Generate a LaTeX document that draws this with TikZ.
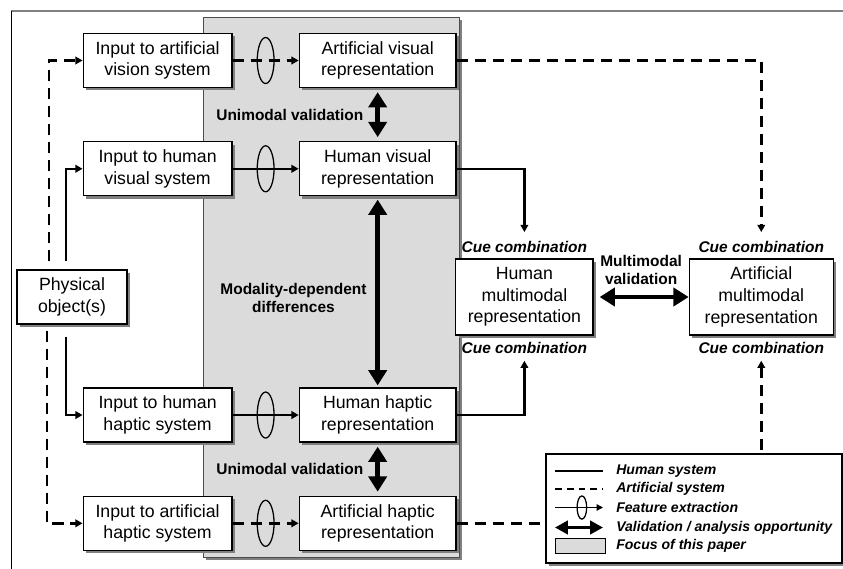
\documentclass[tikz,border=0pt]{standalone}
\usepackage{fontspec}
\setmainfont{Liberation Sans}
\usepackage{tikz}
\usetikzlibrary{shapes.geometric, arrows.meta, positioning, shadows}

\definecolor{focusgray}{gray}{0.86}

\tikzset{
  boxshadow/.style={general shadow={fill=black!50, shadow xshift=0.07cm, shadow yshift=-0.07cm}},
}

\begin{document}
\begin{tikzpicture}[
  box/.style={rectangle, draw, line width=0.9pt, fill=white, minimum width=3.72cm, minimum height=1.35cm, align=center, inner sep=1pt, font=\fontsize{12.6}{15.4}\selectfont, boxshadow},
  rep/.style={box, minimum width=3.92cm},
  multi/.style={box, minimum height=1.9cm},
  fx/.style={ellipse, draw, solid, line width=0.9pt, minimum width=0.42cm, minimum height=1.15cm, inner sep=0pt},
  hline/.style={line width=1.8pt},
  dline/.style={hline, dash pattern=on 0.28cm off 0.17cm},
  arr/.style={-{Triangle[length=1.8mm, width=1.9mm]}},
  bigarr/.style={{Triangle[length=3.8mm, width=4.5mm]}-{Triangle[length=3.8mm, width=4.5mm]}, line width=3.4pt},
  lbl/.style={inner sep=0pt, align=center, font=\fontsize{11}{13}\selectfont\bfseries},
  cue/.style={lbl, font=\fontsize{11}{13}\selectfont\bfseries\itshape},
  key/.style={anchor=west, inner sep=0pt, font=\fontsize{10}{12}\selectfont\bfseries\itshape},
]
\useasboundingbox (0,0) rectangle (21.075,-14.2);

% frame
\draw[black!50, line width=1.4pt] (0.275,-0.275) -- (21.2,-0.275);
\draw[line width=0.5pt] (0.275,-0.275) -- (0.275,-14.3);

% shaded region
\node[draw=black!70, line width=0.6pt, fill=focusgray, boxshadow, minimum width=6.4cm, minimum height=13.5cm] (focus) at (8.275,-7.175) {};

% left column
\node[box] (invis) at (3.94,-1.5125) {Input to artificial\\vision system};
\node[box, below=1.325cm of invis] (inhvis) {Input to human\\visual system};
\node[box, below=4.775cm of inhvis] (inhhap) {Input to human\\haptic system};
\node[box, below=1.325cm of inhhap] (inahap) {Input to artificial\\haptic system};
\node[box, minimum width=2.75cm] (phys) at (1.8,-7.425) {Physical\\object(s)};

% representations
\node[rep, right=1.65cm of invis] (artvis) {Artificial visual\\representation};
\node[rep, right=1.65cm of inhvis] (hvis) {Human visual\\representation};
\node[rep, right=1.65cm of inhhap] (hhap) {Human haptic\\representation};
\node[rep, right=1.65cm of inahap] (ahap) {Artificial haptic\\representation};

% multimodal
\node[multi, minimum width=3.43cm] (hmm) at (13.11,-7.425) {Human\\multimodal\\representation};
\node[multi, minimum width=3.6cm, right=2.375cm of hmm] (amm) {Artificial\\multimodal\\representation};
\node[cue, above=0.14cm of hmm] (cueHV) {Cue combination};
\node[cue, below=0.17cm of hmm] (cueHH) {Cue combination};
\node[cue, above=0.14cm of amm] (cueAV) {Cue combination};
\node[cue, below=0.17cm of amm] (cueAH) {Cue combination};

% from the object
\draw[dline, arr, shorten <=0.2cm] ([xshift=-0.575cm]phys.north) |- (invis.west);
\draw[hline, arr, shorten <=0.2cm] ([xshift=-0.15cm]phys.north) |- (inhvis.west);
\draw[dline, arr, shorten <=0.15cm] ([xshift=-0.625cm]phys.south) |- (inahap.west);
\draw[hline, arr, shorten <=0.3cm] ([xshift=-0.15cm]phys.south) |- (inhhap.west);

% feature extraction
\draw[dline, arr] (invis) -- node[fx] (fx1) {} (artvis);
\draw[hline, arr] (inhvis) -- node[fx] (fx2) {} (hvis);
\draw[hline, arr] (inhhap) -- node[fx] (fx3) {} (hhap);
\draw[dline, arr] (inahap) -- node[fx] (fx4) {} (ahap);

% validation
\draw[bigarr, shorten <=0.1cm, shorten >=0.1cm] (artvis) -- node[lbl, left=0.3cm] (uniV) {Unimodal validation} (hvis);
\draw[bigarr, shorten <=0.08cm, shorten >=0.05cm] (hvis) -- node[lbl, left=0.22cm, yshift=-0.16cm] (moddiff) {Modality-dependent\\differences} (hhap);
\draw[bigarr, shorten <=0.1cm, shorten >=0.1cm] (hhap) -- node[lbl, left=0.3cm] (uniH) {Unimodal validation} (ahap);
\draw[bigarr, shorten <=0.15cm] (hmm) -- node[lbl, above=0.25cm] (multival) {Multimodal\\validation} (amm);

% cue combination
\draw[hline, arr, shorten >=0.22cm] (hvis.east) -| (cueHV.north);
\draw[hline, arr, shorten >=0.16cm] (hhap.east) -| (cueHH.south);
\draw[dline, arr, shorten >=0.22cm] (artvis.east) -| (cueAV.north);
\draw[dline, arr, shorten >=0.16cm] (ahap.east) -| (cueAH.south);

% legend
\node[draw, line width=0.9pt, fill=white, boxshadow, minimum width=7.4cm, minimum height=2.725cm] (legend) at (17.35,-12.7125) {};
\coordinate (k1a) at (13.875,-11.775); \coordinate (k1b) at (15.075,-11.775);
\coordinate (k2a) at (13.875,-12.225); \coordinate (k2b) at (15.075,-12.225);
\coordinate (k3a) at (13.875,-12.6875); \coordinate (k3b) at (15.075,-12.6875);
\coordinate (k4a) at (13.875,-13.1875); \coordinate (k4b) at (15.075,-13.1875);
\draw[line width=1.1pt] (k1a) -- (k1b);
\draw[line width=1.1pt, dash pattern=on 0.17cm off 0.125cm] (k2a) -- (k2b);
\draw[line width=0.9pt, -{Triangle[length=1.6mm, width=1.6mm]}] (k3a) -- node[fx, pos=0.56, minimum width=0.24cm, minimum height=0.58cm] (kfx) {} (k3b);
\draw[{Triangle[length=3.2mm, width=3.3mm]}-{Triangle[length=3.2mm, width=3.3mm]}, line width=2.2pt] (k4a) -- (k4b);
\node[draw, line width=0.6pt, fill=focusgray, minimum width=1.25cm, minimum height=0.375cm] (kbox) at (14.5,-13.6375) {};
\node[key] (key1) at (15.4,-11.775) {Human system};
\node[key] (key2) at (15.4,-12.225) {Artificial system};
\node[key] (key3) at (15.4,-12.6875) {Feature extraction};
\node[key] (key4) at (15.4,-13.1875) {Validation / analysis opportunity};
\node[key] (key5) at (15.4,-13.6375) {Focus of this paper};
\end{tikzpicture}
\end{document}
